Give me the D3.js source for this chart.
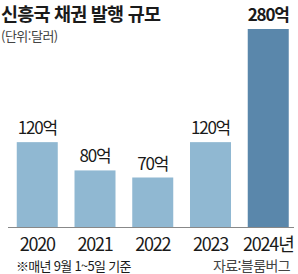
<!DOCTYPE html>
<html lang="ko">
<head>
<meta charset="UTF-8">
<script src="https://d3js.org/d3.v7.min.js"></script>
<title>신흥국 채권 발행 규모</title>
<style>
body { margin: 0; background: #fff; }
text { font-family: "Noto Sans CJK KR", "Noto Sans", sans-serif; fill: #1a1a1a; }
</style>
</head>
<body>
<script>
var years = ["2020", "2021", "2022", "2023", "2024"];
var yearLabels = ["2020", "2021", "2022", "2023", "2024년"];
var values = [120, 80, 70, 120, 280];

var width = 298, height = 274;
var baseY = 227;

var svg = d3.select("body").append("svg")
    .attr("width", width)
    .attr("height", height);

var x = d3.scaleBand()
    .domain(years)
    .range([8.5, 297])
    .paddingInner(0.29)
    .paddingOuter(0.143);

var y = d3.scaleLinear()
    .domain([0, 280])
    .range([baseY, 29]);

// title
svg.append("text")
    .attr("x", 1).attr("y", 21)
    .style("font-size", "18.5px").style("font-weight", "bold")
    .style("letter-spacing", "-0.8px")
    .text("신흥국 채권 발행 규모");

svg.append("text")
    .attr("x", 1).attr("y", 41)
    .style("font-size", "13px").style("fill", "#444")
    .style("letter-spacing", "-0.5px")
    .text("(단위:달러)");

// bars
svg.selectAll("rect.bar")
    .data(values)
  .enter().append("rect")
    .attr("class", "bar")
    .attr("x", function(d, i) { return x(years[i]); })
    .attr("y", function(d) { return y(d); })
    .attr("width", x.bandwidth())
    .attr("height", function(d) { return baseY - y(d); })
    .attr("fill", function(d, i) { return i == 4 ? "#5a87ab" : "#90b8d2"; });

// value labels
svg.selectAll("text.val")
    .data(values)
  .enter().append("text")
    .attr("class", "val")
    .attr("x", function(d, i) { return x(years[i]) + x.bandwidth() / 2; })
    .attr("y", function(d) { return y(d) - 8; })
    .attr("text-anchor", "middle")
    .style("font-size", "17px")
    .style("letter-spacing", "-1.2px")
    .style("font-weight", function(d, i) { return i == 4 ? "bold" : "normal"; })
    .text(function(d) { return d + "억"; });

// baseline
svg.append("line")
    .attr("x1", 8).attr("x2", 294)
    .attr("y1", baseY + 0.5).attr("y2", baseY + 0.5)
    .attr("stroke", "#888").attr("stroke-width", 1);

// x axis labels
svg.selectAll("text.year")
    .data(yearLabels)
  .enter().append("text")
    .attr("class", "year")
    .attr("x", function(d, i) { return x(years[i]) + x.bandwidth() / 2; })
    .attr("y", 251)
    .attr("text-anchor", "middle")
    .style("font-size", "18px")
    .style("letter-spacing", "-1.2px")
    .text(function(d) { return d; });

// footnotes
svg.append("text")
    .attr("x", 16).attr("y", 271)
    .style("font-size", "13px")
    .style("letter-spacing", "-0.7px")
    .text("※매년 9월 1~5일 기준");

svg.append("text")
    .attr("x", 290).attr("y", 271)
    .attr("text-anchor", "end")
    .style("font-size", "14px").style("fill", "#444")
    .style("letter-spacing", "-0.6px")
    .text("자료:블룸버그");
</script>
</body>
</html>
